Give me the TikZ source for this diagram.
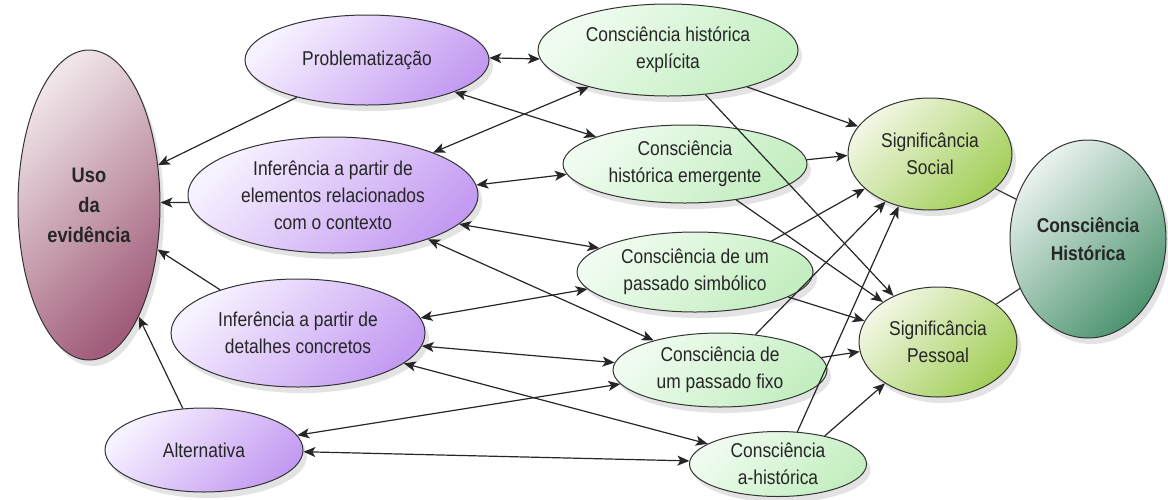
\documentclass[tikz,border=0pt]{standalone}
\usepackage{fontspec}
\setmainfont{Liberation Sans}[FakeStretch=0.87]
\usetikzlibrary{shapes.geometric, arrows.meta, shadows}
\definecolor{usoClaro}{HTML}{EFE4E8}
\definecolor{usoEscuro}{HTML}{A05C79}
\definecolor{lilasClaro}{HTML}{F7F2FF}
\definecolor{lilasEscuro}{HTML}{C49BF2}
\definecolor{verdeClaro}{HTML}{F0FCF0}
\definecolor{verdeEscuro}{HTML}{C3EEC0}
\definecolor{signifClaro}{HTML}{F2F7E4}
\definecolor{signifEscuro}{HTML}{A2CE58}
\definecolor{chClaro}{HTML}{EAF2EE}
\definecolor{chEscuro}{HTML}{4D9470}
\tikzstyle{base} = [ellipse, draw=black!80, line width=1pt, inner sep=0pt, align=center, text=black!85, font=\fontsize{20}{27}\selectfont, drop shadow={shadow xshift=4pt, shadow yshift=-6pt, opacity=0.22}]
\tikzstyle{evidencia} = [base, top color=usoClaro, bottom color=usoEscuro, shading angle=45, font=\bfseries\fontsize{21}{30}\selectfont]
\tikzstyle{inferencia} = [base, top color=lilasClaro, bottom color=lilasEscuro, shading angle=45]
\tikzstyle{consciencia} = [base, top color=verdeClaro, bottom color=verdeEscuro, shading angle=45]
\tikzstyle{significancia} = [base, top color=signifClaro, bottom color=signifEscuro, shading angle=45]
\tikzstyle{historica} = [base, top color=chClaro, bottom color=chEscuro, shading angle=45, font=\bfseries\fontsize{20}{28}\selectfont]
\tikzstyle{arrow} = [line width=1.2pt, draw=black!85, -{Stealth[length=12pt, width=10pt, inset=3pt]}]
\tikzstyle{darrow} = [line width=1.2pt, draw=black!85, {Stealth[length=12pt, width=10pt, inset=3pt]}-{Stealth[length=12pt, width=10pt, inset=3pt]}]
\tikzstyle{link} = [line width=1.2pt, draw=black!80]

\begin{document}
\begin{tikzpicture}[x=1pt, y=-1pt]
\useasboundingbox (0,0) rectangle (1168,499);

\node (uso) [evidencia, minimum width=142pt, minimum height=310pt] at (89,205) {Uso\\da\\evidência};
\node (prob) [inferencia, minimum width=244pt, minimum height=90pt] at (367,60) {Problematização};
\node (ctx) [inferencia, minimum width=290pt, minimum height=116pt] at (333,195) {Inferência a partir de\\elementos relacionados\\com o contexto};
\node (det) [inferencia, minimum width=254pt, minimum height=108pt] at (298,333) {Inferência a partir de\\detalhes concretos};
\node (alt) [inferencia, minimum width=198pt, minimum height=84pt] at (204,450) {Alternativa};
\node (expl) [consciencia, minimum width=260pt, minimum height=92pt] at (668,50) {Consciência histórica\\explícita};
\node (emer) [consciencia, minimum width=244pt, minimum height=78pt] at (685,164) {Consciência\\histórica emergente};
\node (simb) [consciencia, minimum width=236pt, minimum height=80pt] at (695,272) {Consciência de um\\passado simbólico};
\node (fixo) [consciencia, minimum width=214pt, minimum height=74pt] at (720,370) {Consciência de\\um passado fixo};
\node (ahis) [consciencia, minimum width=177pt, minimum height=65pt] at (778,464) {Consciência\\a-histórica};
\node (soc) [significancia, minimum width=164pt, minimum height=112pt] at (930,154) {Significância\\Social};
\node (pes) [significancia, minimum width=158pt, minimum height=110pt] at (938,342) {Significância\\Pessoal};
\node (ch) [historica, minimum width=156pt, minimum height=198pt] at (1088,239) {Consciência\\Histórica};

% Arrows
\draw [arrow] (prob.208) -- (uso.30);
\draw [arrow] (ctx.183) -- (uso.2);
\draw [arrow] (det.151) -- (uso.327);
\draw [arrow] (alt.117) -- (uso.294);
\draw [darrow] (prob.1) -- (expl.184);
\draw [darrow] (prob.340) -- (emer.163);
\draw [darrow] (ctx.23) -- (expl.205);
\draw [darrow] (ctx.4) -- (emer.185);
\draw [darrow] (ctx.347) -- (simb.166);
\draw [darrow] (ctx.335) -- (fixo.156);
\draw [darrow] (det.7) -- (simb.189);
\draw [darrow] (det.354) -- (fixo.176);
\draw [darrow] (det.344) -- (ahis.164);
\draw [darrow] (alt.9) -- (fixo.188);
\draw [darrow] (alt.359) -- (ahis.178);
\draw [arrow] (expl.335) -- (soc.159);
\draw [arrow] (expl.310) -- (pes.134);
\draw [arrow] (emer.2) -- (soc.181);
\draw [arrow] (emer.325) -- (pes.144);
\draw [arrow] (simb.22) -- (soc.208);
\draw [arrow] (simb.345) -- (pes.164);
\draw [arrow] (fixo.45) -- (soc.227);
\draw [arrow] (fixo.7) -- (pes.187);
\draw [arrow] (ahis.59) -- (soc.239);
\draw [arrow] (ahis.31) -- (pes.218);
\draw [link] (soc.332) -- (ch.151);
\draw [link] (pes.33) -- (ch.216);
\end{tikzpicture}
\end{document}
